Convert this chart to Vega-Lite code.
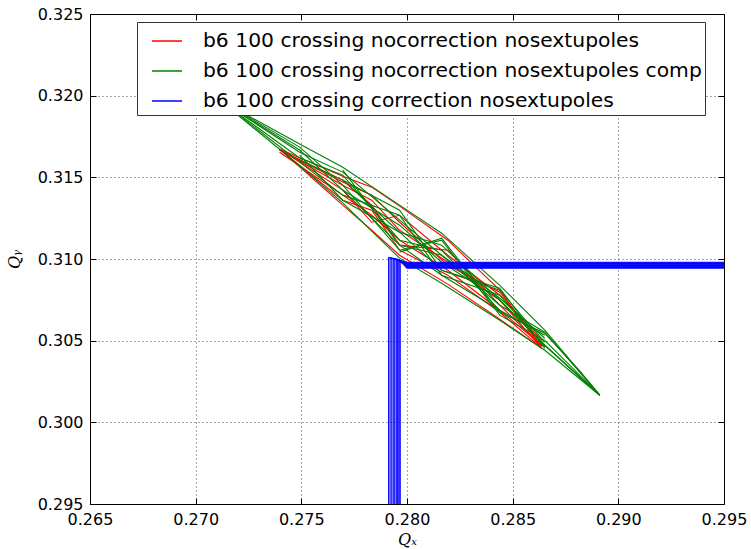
{
 "$schema": "https://vega.github.io/schema/vega-lite/v6.json",
 "width": 634,
 "height": 490,
 "autosize": {"type": "none"},
 "padding": {"left": 90, "top": 14, "right": 27, "bottom": 45},
 "background": "white",
 "config": {
  "view": {"stroke": "#000", "strokeWidth": 1},
  "font": "DejaVu Sans",
  "axis": {"labelFont": "DejaVu Sans", "labelFontSize": 16, "labelColor": "#000", "tickColor": "#000", "tickSize": -6, "tickWidth": 1, "domain": false, "labelFlush": false, "labelOverlap": false, "gridColor": "#000", "gridDash": [1, 3], "gridWidth": 1, "gridOpacity": 0.7, "titleFont": "DejaVu Serif", "titleFontStyle": "italic", "titleFontWeight": "normal", "titleFontSize": 16, "titleColor": "#000"}
 },
 "data": {"values": [
  {"s":"R","id":"R1","o":1,"qx":0.27397,"qy":0.31673},{"s":"R","id":"R1","o":2,"qx":0.27696,"qy":0.31507},{"s":"R","id":"R1","o":3,"qx":0.27833,"qy":0.31440},{"s":"R","id":"R1","o":4,"qx":0.27965,"qy":0.31324},{"s":"R","id":"R1","o":5,"qx":0.28193,"qy":0.31115},{"s":"R","id":"R1","o":6,"qx":0.28439,"qy":0.30809},{"s":"R","id":"R1","o":7,"qx":0.28638,"qy":0.30453},
  {"s":"R","id":"R2","o":1,"qx":0.27397,"qy":0.31673},{"s":"R","id":"R2","o":2,"qx":0.27696,"qy":0.31330},{"s":"R","id":"R2","o":3,"qx":0.27833,"qy":0.31176},{"s":"R","id":"R2","o":4,"qx":0.27965,"qy":0.31023},{"s":"R","id":"R2","o":5,"qx":0.28193,"qy":0.30846},{"s":"R","id":"R2","o":6,"qx":0.28439,"qy":0.30631},{"s":"R","id":"R2","o":7,"qx":0.28638,"qy":0.30453},
  {"s":"R","id":"R3","o":1,"qx":0.27397,"qy":0.31667},{"s":"R","id":"R3","o":2,"qx":0.27696,"qy":0.31452},{"s":"R","id":"R3","o":3,"qx":0.27833,"qy":0.31360},{"s":"R","id":"R3","o":4,"qx":0.27965,"qy":0.31176},{"s":"R","id":"R3","o":5,"qx":0.28193,"qy":0.30980},{"s":"R","id":"R3","o":6,"qx":0.28439,"qy":0.30748},{"s":"R","id":"R3","o":7,"qx":0.28638,"qy":0.30453},
  {"s":"R","id":"R4","o":1,"qx":0.27397,"qy":0.31654},{"s":"R","id":"R4","o":2,"qx":0.27696,"qy":0.31391},{"s":"R","id":"R4","o":3,"qx":0.27833,"qy":0.31268},{"s":"R","id":"R4","o":4,"qx":0.27965,"qy":0.31115},{"s":"R","id":"R4","o":5,"qx":0.28193,"qy":0.30931},{"s":"R","id":"R4","o":6,"qx":0.28439,"qy":0.30686},{"s":"R","id":"R4","o":7,"qx":0.28638,"qy":0.30472},
  {"s":"R","id":"R5","o":1,"qx":0.27397,"qy":0.31673},{"s":"R","id":"R5","o":2,"qx":0.27696,"qy":0.31422},{"s":"R","id":"R5","o":3,"qx":0.27833,"qy":0.31225},{"s":"R","id":"R5","o":4,"qx":0.27965,"qy":0.31268},{"s":"R","id":"R5","o":5,"qx":0.28193,"qy":0.31023},{"s":"R","id":"R5","o":6,"qx":0.28439,"qy":0.30778},{"s":"R","id":"R5","o":7,"qx":0.28638,"qy":0.30502},
  {"s":"R","id":"R6","o":1,"qx":0.27397,"qy":0.31667},{"s":"R","id":"R6","o":2,"qx":0.27696,"qy":0.31483},{"s":"R","id":"R6","o":3,"qx":0.27833,"qy":0.31330},{"s":"R","id":"R6","o":4,"qx":0.27965,"qy":0.31085},{"s":"R","id":"R6","o":5,"qx":0.28193,"qy":0.31054},{"s":"R","id":"R6","o":6,"qx":0.28439,"qy":0.30717},{"s":"R","id":"R6","o":7,"qx":0.28638,"qy":0.30466},
  {"s":"R","id":"R7","o":1,"qx":0.27397,"qy":0.31673},{"s":"R","id":"R7","o":2,"qx":0.27696,"qy":0.31360},{"s":"R","id":"R7","o":3,"qx":0.27833,"qy":0.31299},{"s":"R","id":"R7","o":4,"qx":0.27965,"qy":0.31054},{"s":"R","id":"R7","o":5,"qx":0.28193,"qy":0.30901},{"s":"R","id":"R7","o":6,"qx":0.28439,"qy":0.30674},{"s":"R","id":"R7","o":7,"qx":0.28638,"qy":0.30453},
  {"s":"R","id":"R8","o":1,"qx":0.27397,"qy":0.31667},{"s":"R","id":"R8","o":2,"qx":0.27696,"qy":0.31471},{"s":"R","id":"R8","o":3,"qx":0.27833,"qy":0.31391},{"s":"R","id":"R8","o":4,"qx":0.27965,"qy":0.31225},{"s":"R","id":"R8","o":5,"qx":0.28193,"qy":0.30962},{"s":"R","id":"R8","o":6,"qx":0.28439,"qy":0.30797},{"s":"R","id":"R8","o":7,"qx":0.28638,"qy":0.30466},
  {"s":"G","id":"G1","o":1,"qx":0.27113,"qy":0.31973},{"s":"G","id":"G1","o":2,"qx":0.27492,"qy":0.31704},{"s":"G","id":"G1","o":3,"qx":0.27696,"qy":0.31562},{"s":"G","id":"G1","o":4,"qx":0.27965,"qy":0.31330},{"s":"G","id":"G1","o":5,"qx":0.28164,"qy":0.31158},{"s":"G","id":"G1","o":6,"qx":0.28439,"qy":0.30839},{"s":"G","id":"G1","o":7,"qx":0.28652,"qy":0.30564},{"s":"G","id":"G1","o":8,"qx":0.28912,"qy":0.30166},
  {"s":"G","id":"G2","o":1,"qx":0.27113,"qy":0.31973},{"s":"G","id":"G2","o":2,"qx":0.27492,"qy":0.31571},{"s":"G","id":"G2","o":3,"qx":0.27696,"qy":0.31344},{"s":"G","id":"G2","o":4,"qx":0.27965,"qy":0.31005},{"s":"G","id":"G2","o":5,"qx":0.28164,"qy":0.30851},{"s":"G","id":"G2","o":6,"qx":0.28439,"qy":0.30625},{"s":"G","id":"G2","o":7,"qx":0.28652,"qy":0.30441},{"s":"G","id":"G2","o":8,"qx":0.28912,"qy":0.30166},
  {"s":"G","id":"G3","o":1,"qx":0.27113,"qy":0.31973},{"s":"G","id":"G3","o":2,"qx":0.27492,"qy":0.31667},{"s":"G","id":"G3","o":3,"qx":0.27696,"qy":0.31422},{"s":"G","id":"G3","o":4,"qx":0.27965,"qy":0.31207},{"s":"G","id":"G3","o":5,"qx":0.28164,"qy":0.30980},{"s":"G","id":"G3","o":6,"qx":0.28439,"qy":0.30748},{"s":"G","id":"G3","o":7,"qx":0.28652,"qy":0.30472},{"s":"G","id":"G3","o":8,"qx":0.28912,"qy":0.30166},
  {"s":"G","id":"G4","o":1,"qx":0.27113,"qy":0.31973},{"s":"G","id":"G4","o":2,"qx":0.27492,"qy":0.31618},{"s":"G","id":"G4","o":3,"qx":0.27696,"qy":0.31513},{"s":"G","id":"G4","o":4,"qx":0.27965,"qy":0.31115},{"s":"G","id":"G4","o":5,"qx":0.28164,"qy":0.31054},{"s":"G","id":"G4","o":6,"qx":0.28439,"qy":0.30686},{"s":"G","id":"G4","o":7,"qx":0.28652,"qy":0.30533},
  {"s":"G","id":"G5","o":1,"qx":0.27113,"qy":0.31973},{"s":"G","id":"G5","o":2,"qx":0.27492,"qy":0.31593},{"s":"G","id":"G5","o":3,"qx":0.27696,"qy":0.31391},{"s":"G","id":"G5","o":4,"qx":0.27965,"qy":0.31268},{"s":"G","id":"G5","o":5,"qx":0.28164,"qy":0.30901},{"s":"G","id":"G5","o":6,"qx":0.28439,"qy":0.30778},{"s":"G","id":"G5","o":7,"qx":0.28652,"qy":0.30460},
  {"s":"G","id":"G6","o":1,"qx":0.27113,"qy":0.31973},{"s":"G","id":"G6","o":2,"qx":0.27492,"qy":0.31685},{"s":"G","id":"G6","o":3,"qx":0.27696,"qy":0.31452},{"s":"G","id":"G6","o":4,"qx":0.27965,"qy":0.31054},{"s":"G","id":"G6","o":5,"qx":0.28164,"qy":0.31115},{"s":"G","id":"G6","o":6,"qx":0.28439,"qy":0.30656},{"s":"G","id":"G6","o":7,"qx":0.28652,"qy":0.30502},{"s":"G","id":"G6","o":8,"qx":0.28912,"qy":0.30166},
  {"s":"G","id":"G7","o":1,"qx":0.27492,"qy":0.31636},{"s":"G","id":"G7","o":2,"qx":0.27696,"qy":0.31360},{"s":"G","id":"G7","o":3,"qx":0.27965,"qy":0.31164},{"s":"G","id":"G7","o":4,"qx":0.28164,"qy":0.30931},{"s":"G","id":"G7","o":5,"qx":0.28439,"qy":0.30809},{"s":"G","id":"G7","o":6,"qx":0.28652,"qy":0.30490},
  {"s":"G","id":"G8","o":1,"qx":0.27696,"qy":0.31544},{"s":"G","id":"G8","o":2,"qx":0.27965,"qy":0.31085},{"s":"G","id":"G8","o":3,"qx":0.28164,"qy":0.31023},{"s":"G","id":"G8","o":4,"qx":0.28439,"qy":0.30717},{"s":"G","id":"G8","o":5,"qx":0.28652,"qy":0.30552},{"s":"G","id":"G8","o":6,"qx":0.28912,"qy":0.30166},
  {"s":"G","id":"G9","o":1,"qx":0.27696,"qy":0.31483},{"s":"G","id":"G9","o":2,"qx":0.27965,"qy":0.31299},{"s":"G","id":"G9","o":3,"qx":0.28164,"qy":0.30931},{"s":"G","id":"G9","o":4,"qx":0.28439,"qy":0.30821},{"s":"G","id":"G9","o":5,"qx":0.28652,"qy":0.30453},
  {"s":"G","id":"G10","o":1,"qx":0.27965,"qy":0.31042},{"s":"G","id":"G10","o":2,"qx":0.28164,"qy":0.31127},{"s":"G","id":"G10","o":3,"qx":0.28439,"qy":0.30674},{"s":"G","id":"G10","o":4,"qx":0.28652,"qy":0.30545},{"s":"G","id":"G10","o":5,"qx":0.28818,"qy":0.30313},{"s":"G","id":"G10","o":6,"qx":0.28912,"qy":0.30166},
  {"s":"G","id":"G11","o":1,"qx":0.27113,"qy":0.31973},{"s":"G","id":"G11","o":2,"qx":0.27492,"qy":0.31654},{"s":"G","id":"G11","o":3,"qx":0.27696,"qy":0.31532},{"s":"G","id":"G11","o":4,"qx":0.27965,"qy":0.31238},{"s":"G","id":"G11","o":5,"qx":0.28164,"qy":0.31023},{"s":"G","id":"G11","o":6,"qx":0.28439,"qy":0.30760},{"s":"G","id":"G11","o":7,"qx":0.28652,"qy":0.30515},
  {"s":"G","id":"G12","o":1,"qx":0.27492,"qy":0.31605},{"s":"G","id":"G12","o":2,"qx":0.27696,"qy":0.31483},{"s":"G","id":"G12","o":3,"qx":0.27965,"qy":0.31164},{"s":"G","id":"G12","o":4,"qx":0.28164,"qy":0.31085},{"s":"G","id":"G12","o":5,"qx":0.28439,"qy":0.30748},{"s":"G","id":"G12","o":6,"qx":0.28652,"qy":0.30472},{"s":"G","id":"G12","o":7,"qx":0.28912,"qy":0.30166},
  {"s":"G","id":"G13","o":1,"qx":0.27696,"qy":0.31422},{"s":"G","id":"G13","o":2,"qx":0.27965,"qy":0.31085},{"s":"G","id":"G13","o":3,"qx":0.28164,"qy":0.30901},{"s":"G","id":"G13","o":4,"qx":0.28439,"qy":0.30686},
  {"s":"B","id":"B1","o":1,"qx":0.27913,"qy":0.29},{"s":"B","id":"B1","o":2,"qx":0.27913,"qy":0.31010},{"s":"B","id":"B1","o":3,"qx":0.28,"qy":0.30980},{"s":"B","id":"B1","o":4,"qx":0.30,"qy":0.30980},
  {"s":"B","id":"B2","o":1,"qx":0.27920,"qy":0.29},{"s":"B","id":"B2","o":2,"qx":0.27920,"qy":0.31008},{"s":"B","id":"B2","o":3,"qx":0.28,"qy":0.30976},{"s":"B","id":"B2","o":4,"qx":0.30,"qy":0.30976},
  {"s":"B","id":"B3","o":1,"qx":0.27928,"qy":0.29},{"s":"B","id":"B3","o":2,"qx":0.27928,"qy":0.31006},{"s":"B","id":"B3","o":3,"qx":0.28,"qy":0.30972},{"s":"B","id":"B3","o":4,"qx":0.30,"qy":0.30972},
  {"s":"B","id":"B4","o":1,"qx":0.27935,"qy":0.29},{"s":"B","id":"B4","o":2,"qx":0.27935,"qy":0.31004},{"s":"B","id":"B4","o":3,"qx":0.28,"qy":0.30968},{"s":"B","id":"B4","o":4,"qx":0.30,"qy":0.30968},
  {"s":"B","id":"B5","o":1,"qx":0.27942,"qy":0.29},{"s":"B","id":"B5","o":2,"qx":0.27942,"qy":0.31002},{"s":"B","id":"B5","o":3,"qx":0.28,"qy":0.30964},{"s":"B","id":"B5","o":4,"qx":0.30,"qy":0.30964},
  {"s":"B","id":"B6","o":1,"qx":0.27949,"qy":0.29},{"s":"B","id":"B6","o":2,"qx":0.27949,"qy":0.31000},{"s":"B","id":"B6","o":3,"qx":0.28,"qy":0.30960},{"s":"B","id":"B6","o":4,"qx":0.30,"qy":0.30960},
  {"s":"B","id":"B7","o":1,"qx":0.27954,"qy":0.29},{"s":"B","id":"B7","o":2,"qx":0.27954,"qy":0.30998},{"s":"B","id":"B7","o":3,"qx":0.28,"qy":0.30956},{"s":"B","id":"B7","o":4,"qx":0.30,"qy":0.30956},
  {"s":"B","id":"B8","o":1,"qx":0.27958,"qy":0.29},{"s":"B","id":"B8","o":2,"qx":0.27958,"qy":0.30996},{"s":"B","id":"B8","o":3,"qx":0.28,"qy":0.30952},{"s":"B","id":"B8","o":4,"qx":0.30,"qy":0.30952},
  {"s":"B","id":"B9","o":1,"qx":0.27963,"qy":0.29},{"s":"B","id":"B9","o":2,"qx":0.27963,"qy":0.30993},{"s":"B","id":"B9","o":3,"qx":0.28,"qy":0.30948},{"s":"B","id":"B9","o":4,"qx":0.30,"qy":0.30948},
  {"s":"B","id":"B10","o":1,"qx":0.27968,"qy":0.29},{"s":"B","id":"B10","o":2,"qx":0.27968,"qy":0.30990},{"s":"B","id":"B10","o":3,"qx":0.28,"qy":0.30944},{"s":"B","id":"B10","o":4,"qx":0.30,"qy":0.30944}
 ]},
 "layer": [
  {
   "mark": {"type": "line", "strokeWidth": 1.1, "clip": true},
   "encoding": {
    "x": {"field": "qx", "type": "quantitative", "scale": {"domain": [0.265, 0.295], "nice": false, "zero": false},
     "axis": {"orient": "bottom", "values": [0.265, 0.27, 0.275, 0.28, 0.285, 0.29, 0.295], "format": ".3f", "grid": true, "labelPadding": 13, "title": "Qₓ", "titlePadding": 4}},
    "y": {"field": "qy", "type": "quantitative", "scale": {"domain": [0.295, 0.325], "nice": false, "zero": false},
     "axis": {"orient": "left", "values": [0.295, 0.3, 0.305, 0.31, 0.315, 0.32, 0.325], "format": ".3f", "grid": true, "labelPadding": 13, "title": "Qᵧ", "titlePadding": 15}},
    "color": {"field": "s", "type": "nominal", "scale": {"domain": ["R", "G", "B"], "range": ["#ff0000", "#008000", "#0000ff"]},
     "legend": {"orient": "none", "legendX": 47, "legendY": 8, "title": null, "direction": "vertical",
      "labelExpr": "datum.value == 'R' ? 'b6 100 crossing nocorrection nosextupoles' : datum.value == 'G' ? 'b6 100 crossing nocorrection nosextupoles comp' : 'b6 100 crossing correction nosextupoles'",
      "labelFont": "DejaVu Sans", "labelFontSize": 20.3, "labelColor": "#000", "labelLimit": 0, "labelOffset": 20,
      "symbolType": "stroke", "symbolSize": 900, "symbolStrokeWidth": 1.5, "symbolOffset": 11,
      "fillColor": "#ffffff", "strokeColor": "#333333", "padding": 3, "rowPadding": 3}},
    "detail": {"field": "id"},
    "order": {"field": "o", "type": "quantitative"}
   }
  },
  {
   "mark": {"type": "line", "opacity": 0},
   "encoding": {
    "x": {"field": "qx", "type": "quantitative", "axis": {"orient": "top", "values": [0.265, 0.27, 0.275, 0.28, 0.285, 0.29, 0.295], "labels": false, "grid": false, "title": null}},
    "y": {"field": "qy", "type": "quantitative", "axis": {"orient": "right", "values": [0.295, 0.3, 0.305, 0.31, 0.315, 0.32, 0.325], "labels": false, "grid": false, "title": null}},
    "detail": {"field": "id"}
   }
  }
 ],
 "resolve": {"axis": {"x": "independent", "y": "independent"}}
}
